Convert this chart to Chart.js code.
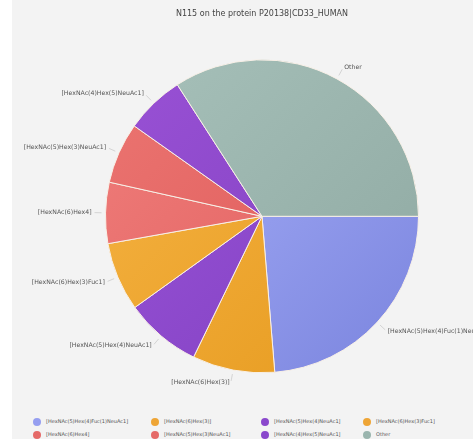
<!DOCTYPE html>
<html>
<head>
<meta charset="utf-8">
<script src="https://cdn.jsdelivr.net/npm/chart.js@4"></script>
<style>
  html, body { margin: 0; padding: 0; background: #fff; }
  .panel { position: absolute; left: 12px; top: 0; width: 461px; height: 439px; background: #f3f3f3; }
  .chart-box { position: absolute; left: 0; top: 0; width: 461px; height: 400px; }
  .legend { position: absolute; left: 0; top: 417px; width: 461px; font-family: "DejaVu Sans", sans-serif; font-size: 5px; color: #555; }
  .legend-item { position: absolute; white-space: nowrap; line-height: 9px; }
  .legend-dot { display: inline-block; width: 8px; height: 8px; border-radius: 50%; vertical-align: middle; margin-right: 5px; }
</style>
</head>
<body>
<div class="panel">
  <div class="chart-box"><canvas id="pieChart" width="461" height="400"></canvas></div>
  <div class="legend" id="legend"></div>
</div>
<script>
const titleText = 'N115 on the protein P20138|CD33_HUMAN';
const glycans = [
    '[HexNAc(5)Hex(4)Fuc(1)NeuAc1]',
    '[HexNAc(6)Hex(3)]',
    '[HexNAc(5)Hex(4)NeuAc1]',
    '[HexNAc(6)Hex(3)Fuc1]',
    '[HexNAc(6)Hex4]',
    '[HexNAc(5)Hex(3)NeuAc1]',
    '[HexNAc(4)Hex(5)NeuAc1]',
    'Other'
];
const shares = [23.7, 8.5, 7.9, 7.1, 6.3, 6.3, 6.1, 34.1];
const lightColors = ['#acb4fb', '#f6b445', '#9c55da', '#f6b445', '#f07f7c', '#ec7672', '#9a52d6', '#a7c1ba'];
const darkColors = ['#7a84de', '#e69a1e', '#7f3fbf', '#e69a1e', '#df5a5a', '#dc5656', '#7e3ebd', '#8ea8a1'];
const dotColors = ['#959ef0', '#eea536', '#8a48cc', '#eea536', '#e56a68', '#e56a68', '#8a48cc', '#9ab5ae'];

// legend columns (px)
const legendCols = [21, 139, 249, 351];

function sliceFill(context) {
    const chart = context.chart;
    const area = chart.chartArea;
    const i = context.dataIndex;
    if (!area) return lightColors[i];
    const grad = chart.ctx.createLinearGradient(area.left, area.top, area.right, area.bottom);
    grad.addColorStop(0, lightColors[i]);
    grad.addColorStop(1, darkColors[i]);
    return grad;
}

const outerLabels = {
    id: 'outerLabels',
    afterDatasetsDraw(chart) {
        const ctx = chart.ctx;
        const meta = chart.getDatasetMeta(0);
        ctx.save();
        ctx.font = '6.2px "DejaVu Sans", sans-serif';
        ctx.textBaseline = 'middle';
        meta.data.forEach((arc, i) => {
            const mid = (arc.startAngle + arc.endAngle) / 2;
            const r = arc.outerRadius;
            const cx = arc.x, cy = arc.y;
            const cos = Math.cos(mid), sin = Math.sin(mid);
            ctx.strokeStyle = '#cccccc';
            ctx.lineWidth = 0.8;
            ctx.beginPath();
            ctx.moveTo(cx + cos * (r + 4), cy + sin * (r + 4));
            ctx.lineTo(cx + cos * (r + 11), cy + sin * (r + 11));
            ctx.stroke();
            const tx = cx + cos * (r + 13);
            const ty = cy + sin * (r + 13);
            ctx.fillStyle = '#555';
            ctx.textAlign = cos >= 0 ? 'left' : 'right';
            ctx.fillText(glycans[i], tx + (cos >= 0 ? 1 : -1), ty);
        });
        ctx.restore();
    }
};

const ctx = document.getElementById('pieChart').getContext('2d');
const pieChart = new Chart(ctx, {
    type: 'pie',
    data: {
        labels: glycans,
        datasets: [{
            data: shares,
            backgroundColor: sliceFill,
            borderColor: '#f7efe6',
            borderWidth: 1
        }]
    },
    options: {
        responsive: false,
        animation: false,
        rotation: 90,
        layout: { padding: { left: 93, right: 54, top: 0, bottom: 26 } },
        plugins: {
            legend: { display: false },
            tooltip: { enabled: false },
            title: {
                display: true,
                text: titleText,
                color: '#444',
                font: { family: 'DejaVu Sans', size: 8, weight: 'normal' },
                padding: { top: 9, bottom: 40 }
            }
        }
    },
    plugins: [outerLabels]
});

const legendEl = document.getElementById('legend');
glycans.forEach((name, i) => {
    const item = document.createElement('div');
    item.className = 'legend-item';
    item.style.left = legendCols[i % 4] + 'px';
    item.style.top = (Math.floor(i / 4) * 13) + 'px';
    item.innerHTML = `<span class="legend-dot" style="background:${dotColors[i]}"></span>${name}`;
    legendEl.appendChild(item);
});
</script>
</body>
</html>
